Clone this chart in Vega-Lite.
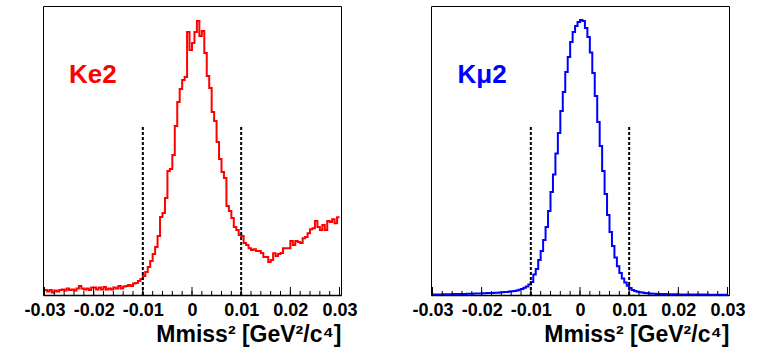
{
  "$schema": "https://vega.github.io/schema/vega-lite/v6.json",
  "background": "white",
  "padding": {"left": 23, "top": 5, "right": 20, "bottom": 5},
  "bounds": "flush",
  "spacing": 90,
  "config": {
    "view": {"stroke": "black", "strokeWidth": 1}
  },
  "datasets": {
    "ke2": [
      {"x": -0.03, "y": 5}, {"x": -0.0295, "y": 3.5}, {"x": -0.029, "y": 5}, {"x": -0.0285, "y": 2.5}, {"x": -0.028, "y": 4.5},
      {"x": -0.0275, "y": 3.5}, {"x": -0.027, "y": 5}, {"x": -0.0265, "y": 5.5}, {"x": -0.026, "y": 4.5}, {"x": -0.0255, "y": 6.5},
      {"x": -0.025, "y": 5}, {"x": -0.0245, "y": 5.5}, {"x": -0.024, "y": 4.5}, {"x": -0.0235, "y": 6.5}, {"x": -0.023, "y": 9},
      {"x": -0.0225, "y": 6.5}, {"x": -0.022, "y": 5.5}, {"x": -0.0215, "y": 6.5}, {"x": -0.021, "y": 5}, {"x": -0.0205, "y": 7.5},
      {"x": -0.02, "y": 7.5}, {"x": -0.0195, "y": 5.5}, {"x": -0.019, "y": 7.5}, {"x": -0.0185, "y": 5.5}, {"x": -0.018, "y": 8},
      {"x": -0.0175, "y": 5.5}, {"x": -0.017, "y": 6.5}, {"x": -0.0165, "y": 5.5}, {"x": -0.016, "y": 7.5}, {"x": -0.0155, "y": 6.5},
      {"x": -0.015, "y": 9}, {"x": -0.0145, "y": 6.5}, {"x": -0.014, "y": 8.5}, {"x": -0.0135, "y": 9}, {"x": -0.013, "y": 10},
      {"x": -0.0125, "y": 9}, {"x": -0.012, "y": 11.5}, {"x": -0.0115, "y": 12}, {"x": -0.011, "y": 14}, {"x": -0.0105, "y": 16},
      {"x": -0.01, "y": 19}, {"x": -0.0095, "y": 23}, {"x": -0.009, "y": 28}, {"x": -0.0085, "y": 34}, {"x": -0.008, "y": 41},
      {"x": -0.0075, "y": 48}, {"x": -0.007, "y": 59}, {"x": -0.0065, "y": 78}, {"x": -0.006, "y": 82}, {"x": -0.0055, "y": 97},
      {"x": -0.005, "y": 124}, {"x": -0.0045, "y": 126}, {"x": -0.004, "y": 140}, {"x": -0.0035, "y": 169}, {"x": -0.003, "y": 193},
      {"x": -0.0025, "y": 206}, {"x": -0.002, "y": 215}, {"x": -0.0015, "y": 218}, {"x": -0.001, "y": 263}, {"x": -0.0005, "y": 245},
      {"x": 0, "y": 252}, {"x": 0.0005, "y": 263}, {"x": 0.001, "y": 274}, {"x": 0.0015, "y": 259}, {"x": 0.002, "y": 264},
      {"x": 0.0025, "y": 242}, {"x": 0.003, "y": 219}, {"x": 0.0035, "y": 207}, {"x": 0.004, "y": 183}, {"x": 0.0045, "y": 174},
      {"x": 0.005, "y": 153}, {"x": 0.0055, "y": 136}, {"x": 0.006, "y": 123}, {"x": 0.0065, "y": 117}, {"x": 0.007, "y": 89},
      {"x": 0.0075, "y": 84}, {"x": 0.008, "y": 77}, {"x": 0.0085, "y": 68}, {"x": 0.009, "y": 65}, {"x": 0.0095, "y": 60},
      {"x": 0.01, "y": 59}, {"x": 0.0105, "y": 52}, {"x": 0.011, "y": 50}, {"x": 0.0115, "y": 46.7}, {"x": 0.012, "y": 45},
      {"x": 0.0125, "y": 45.7}, {"x": 0.013, "y": 44}, {"x": 0.0135, "y": 44}, {"x": 0.014, "y": 42}, {"x": 0.0145, "y": 38},
      {"x": 0.015, "y": 38}, {"x": 0.0155, "y": 33}, {"x": 0.016, "y": 35}, {"x": 0.0165, "y": 41.7}, {"x": 0.017, "y": 39},
      {"x": 0.0175, "y": 41}, {"x": 0.018, "y": 42}, {"x": 0.0185, "y": 46.7}, {"x": 0.019, "y": 46.7}, {"x": 0.0195, "y": 46.7},
      {"x": 0.02, "y": 54}, {"x": 0.0205, "y": 50}, {"x": 0.021, "y": 54}, {"x": 0.0215, "y": 53}, {"x": 0.022, "y": 52},
      {"x": 0.0225, "y": 56.7}, {"x": 0.023, "y": 58}, {"x": 0.0235, "y": 61.7}, {"x": 0.024, "y": 65.7}, {"x": 0.0245, "y": 66.7},
      {"x": 0.025, "y": 74}, {"x": 0.0255, "y": 68}, {"x": 0.026, "y": 65}, {"x": 0.0265, "y": 70}, {"x": 0.027, "y": 65},
      {"x": 0.0275, "y": 74}, {"x": 0.028, "y": 73}, {"x": 0.0285, "y": 75.7}, {"x": 0.029, "y": 71.7}, {"x": 0.0295, "y": 77.7},
      {"x": 0.03, "y": 77.7}
    ],
    "km2": [
      {"x": -0.03, "y": 0.5}, {"x": -0.0295, "y": 0.5}, {"x": -0.029, "y": 0.6}, {"x": -0.0285, "y": 0.6}, {"x": -0.028, "y": 0.7},
      {"x": -0.0275, "y": 0.7}, {"x": -0.027, "y": 0.8}, {"x": -0.0265, "y": 0.8}, {"x": -0.026, "y": 0.9}, {"x": -0.0255, "y": 0.9},
      {"x": -0.025, "y": 1}, {"x": -0.0245, "y": 1}, {"x": -0.024, "y": 1.1}, {"x": -0.0235, "y": 1.1}, {"x": -0.023, "y": 1.2},
      {"x": -0.0225, "y": 1.2}, {"x": -0.022, "y": 1.3}, {"x": -0.0215, "y": 1.4}, {"x": -0.021, "y": 1.5}, {"x": -0.0205, "y": 1.6},
      {"x": -0.02, "y": 1.7}, {"x": -0.0195, "y": 1.8}, {"x": -0.019, "y": 1.9}, {"x": -0.0185, "y": 2}, {"x": -0.018, "y": 2.1},
      {"x": -0.0175, "y": 2.2}, {"x": -0.017, "y": 2.3}, {"x": -0.0165, "y": 2.5}, {"x": -0.016, "y": 2.7}, {"x": -0.0155, "y": 2.9},
      {"x": -0.015, "y": 3.1}, {"x": -0.0145, "y": 3.4}, {"x": -0.014, "y": 3.7}, {"x": -0.0135, "y": 4.1}, {"x": -0.013, "y": 4.6},
      {"x": -0.0125, "y": 5.3}, {"x": -0.012, "y": 6.1}, {"x": -0.0115, "y": 7.2}, {"x": -0.011, "y": 8.6}, {"x": -0.0105, "y": 10.5},
      {"x": -0.01, "y": 13}, {"x": -0.0095, "y": 20.5}, {"x": -0.009, "y": 26}, {"x": -0.0085, "y": 35}, {"x": -0.008, "y": 44},
      {"x": -0.0075, "y": 55}, {"x": -0.007, "y": 68}, {"x": -0.0065, "y": 84}, {"x": -0.006, "y": 103}, {"x": -0.0055, "y": 120.5},
      {"x": -0.005, "y": 141.5}, {"x": -0.0045, "y": 162}, {"x": -0.004, "y": 184}, {"x": -0.0035, "y": 203}, {"x": -0.003, "y": 223},
      {"x": -0.0025, "y": 238}, {"x": -0.002, "y": 253}, {"x": -0.0015, "y": 263}, {"x": -0.001, "y": 269}, {"x": -0.0005, "y": 273},
      {"x": 0, "y": 275}, {"x": 0.0005, "y": 274}, {"x": 0.001, "y": 267}, {"x": 0.0015, "y": 258}, {"x": 0.002, "y": 242.5},
      {"x": 0.0025, "y": 222}, {"x": 0.003, "y": 199}, {"x": 0.0035, "y": 173}, {"x": 0.004, "y": 149}, {"x": 0.0045, "y": 124},
      {"x": 0.005, "y": 101}, {"x": 0.0055, "y": 80}, {"x": 0.006, "y": 63}, {"x": 0.0065, "y": 49}, {"x": 0.007, "y": 37.5},
      {"x": 0.0075, "y": 28.8}, {"x": 0.008, "y": 22}, {"x": 0.0085, "y": 16.5}, {"x": 0.009, "y": 12.5}, {"x": 0.0095, "y": 9.2},
      {"x": 0.01, "y": 7}, {"x": 0.0105, "y": 5}, {"x": 0.011, "y": 4}, {"x": 0.0115, "y": 3.3}, {"x": 0.012, "y": 2.8},
      {"x": 0.0125, "y": 2.4}, {"x": 0.013, "y": 2}, {"x": 0.0135, "y": 1.8}, {"x": 0.014, "y": 1.5}, {"x": 0.0145, "y": 1.3},
      {"x": 0.015, "y": 1.2}, {"x": 0.0155, "y": 1.1}, {"x": 0.016, "y": 1}, {"x": 0.0165, "y": 0.9}, {"x": 0.017, "y": 0.9},
      {"x": 0.0175, "y": 0.8}, {"x": 0.018, "y": 0.8}, {"x": 0.0185, "y": 0.7}, {"x": 0.019, "y": 0.7}, {"x": 0.0195, "y": 0.7},
      {"x": 0.02, "y": 0.6}, {"x": 0.0205, "y": 0.6}, {"x": 0.021, "y": 0.6}, {"x": 0.0215, "y": 0.5}, {"x": 0.022, "y": 0.5},
      {"x": 0.0225, "y": 0.5}, {"x": 0.023, "y": 0.5}, {"x": 0.0235, "y": 0.4}, {"x": 0.024, "y": 0.4}, {"x": 0.0245, "y": 0.4},
      {"x": 0.025, "y": 0.4}, {"x": 0.0255, "y": 0.4}, {"x": 0.026, "y": 0.3}, {"x": 0.0265, "y": 0.3}, {"x": 0.027, "y": 0.3},
      {"x": 0.0275, "y": 0.3}, {"x": 0.028, "y": 0.3}, {"x": 0.0285, "y": 0.3}, {"x": 0.029, "y": 0.3}, {"x": 0.0295, "y": 0.3},
      {"x": 0.03, "y": 0.3}
    ],
    "minor": [
      {"x": -0.03}, {"x": -0.028}, {"x": -0.026}, {"x": -0.024}, {"x": -0.022}, {"x": -0.02}, {"x": -0.018}, {"x": -0.016},
      {"x": -0.014}, {"x": -0.012}, {"x": -0.01}, {"x": -0.008}, {"x": -0.006}, {"x": -0.004}, {"x": -0.002}, {"x": 0},
      {"x": 0.002}, {"x": 0.004}, {"x": 0.006}, {"x": 0.008}, {"x": 0.01}, {"x": 0.012}, {"x": 0.014}, {"x": 0.016},
      {"x": 0.018}, {"x": 0.02}, {"x": 0.022}, {"x": 0.024}, {"x": 0.026}, {"x": 0.028}, {"x": 0.03}
    ],
    "major": [
      {"x": -0.03}, {"x": -0.02}, {"x": -0.01}, {"x": 0}, {"x": 0.01}, {"x": 0.02}, {"x": 0.03}
    ],
    "cuts": [{"x": -0.01}, {"x": 0.01}],
    "one": [{"k": 1}]
  },
  "hconcat": [
    {
      "width": 298,
      "height": 289,
      "layer": [
        {
          "data": {"name": "ke2"},
          "mark": {"type": "line", "interpolate": "step-after", "color": "#ff0000", "strokeWidth": 2},
          "encoding": {
            "x": {
              "field": "x", "type": "quantitative",
              "scale": {"domain": [-0.0303, 0.0303], "nice": false, "zero": false},
              "title": "Mmiss² [GeV²/c⁴]",
              "axis": {
                "values": [-0.03, -0.02, -0.01, 0, 0.01, 0.02, 0.03],
                "labelExpr": "datum.value == 0 ? '0' : (datum.value < 0 ? '-' : '') + format(abs(datum.value), '.2f')",
                "ticks": false, "grid": false,
                "domainColor": "black", "domainWidth": 1.5,
                "labelFont": "Liberation Sans", "labelFontWeight": "bold", "labelFontSize": 18, "labelColor": "black",
                "labelPadding": 6, "labelFlush": false, "labelOverlap": false,
                "titleFont": "Liberation Sans", "titleFontSize": 23, "titleFontWeight": "bold", "titleColor": "black",
                "titleAnchor": "end", "titleAlign": "right", "titlePadding": 4
              }
            },
            "y": {"field": "y", "type": "quantitative", "scale": {"domain": [0, 289], "nice": false}, "axis": null}
          }
        },
        {
          "data": {"name": "minor"},
          "mark": {"type": "rule", "color": "black", "strokeWidth": 1},
          "encoding": {
            "x": {"field": "x", "type": "quantitative"},
            "y": {"datum": 0, "type": "quantitative", "axis": null},
            "y2": {"datum": 4}
          }
        },
        {
          "data": {"name": "major"},
          "mark": {"type": "rule", "color": "black", "strokeWidth": 1},
          "encoding": {
            "x": {"field": "x", "type": "quantitative"},
            "y": {"datum": 0, "type": "quantitative", "axis": null},
            "y2": {"datum": 8}
          }
        },
        {
          "data": {"name": "cuts"},
          "mark": {"type": "rule", "color": "black", "strokeWidth": 2, "strokeDash": [3, 2]},
          "encoding": {
            "x": {"field": "x", "type": "quantitative"},
            "y": {"datum": 0, "type": "quantitative", "axis": null},
            "y2": {"datum": 168}
          }
        },
        {
          "data": {"name": "one"},
          "mark": {"type": "text", "text": "Ke2", "font": "Liberation Sans", "fontSize": 26, "fontWeight": "bold", "color": "#ff0000", "align": "left", "baseline": "alphabetic"},
          "encoding": {
            "x": {"datum": -0.025, "type": "quantitative"},
            "y": {"datum": 212, "type": "quantitative", "axis": null}
          }
        }
      ]
    },
    {
      "width": 298,
      "height": 289,
      "layer": [
        {
          "data": {"name": "km2"},
          "mark": {"type": "line", "interpolate": "step-after", "color": "#0000ff", "strokeWidth": 2},
          "encoding": {
            "x": {
              "field": "x", "type": "quantitative",
              "scale": {"domain": [-0.0303, 0.0303], "nice": false, "zero": false},
              "title": "Mmiss² [GeV²/c⁴]",
              "axis": {
                "values": [-0.03, -0.02, -0.01, 0, 0.01, 0.02, 0.03],
                "labelExpr": "datum.value == 0 ? '0' : (datum.value < 0 ? '-' : '') + format(abs(datum.value), '.2f')",
                "ticks": false, "grid": false,
                "domainColor": "black", "domainWidth": 1.5,
                "labelFont": "Liberation Sans", "labelFontWeight": "bold", "labelFontSize": 18, "labelColor": "black",
                "labelPadding": 6, "labelFlush": false, "labelOverlap": false,
                "titleFont": "Liberation Sans", "titleFontSize": 23, "titleFontWeight": "bold", "titleColor": "black",
                "titleAnchor": "end", "titleAlign": "right", "titlePadding": 4
              }
            },
            "y": {"field": "y", "type": "quantitative", "scale": {"domain": [0, 289], "nice": false}, "axis": null}
          }
        },
        {
          "data": {"name": "minor"},
          "mark": {"type": "rule", "color": "black", "strokeWidth": 1},
          "encoding": {
            "x": {"field": "x", "type": "quantitative"},
            "y": {"datum": 0, "type": "quantitative", "axis": null},
            "y2": {"datum": 4}
          }
        },
        {
          "data": {"name": "major"},
          "mark": {"type": "rule", "color": "black", "strokeWidth": 1},
          "encoding": {
            "x": {"field": "x", "type": "quantitative"},
            "y": {"datum": 0, "type": "quantitative", "axis": null},
            "y2": {"datum": 8}
          }
        },
        {
          "data": {"name": "cuts"},
          "mark": {"type": "rule", "color": "black", "strokeWidth": 2, "strokeDash": [3, 2]},
          "encoding": {
            "x": {"field": "x", "type": "quantitative"},
            "y": {"datum": 0, "type": "quantitative", "axis": null},
            "y2": {"datum": 168}
          }
        },
        {
          "data": {"name": "one"},
          "mark": {"type": "text", "text": "Kμ2", "font": "Liberation Sans", "fontSize": 26, "fontWeight": "bold", "color": "#0000ff", "align": "left", "baseline": "alphabetic"},
          "encoding": {
            "x": {"datum": -0.0249, "type": "quantitative"},
            "y": {"datum": 212, "type": "quantitative", "axis": null}
          }
        }
      ]
    }
  ]
}
